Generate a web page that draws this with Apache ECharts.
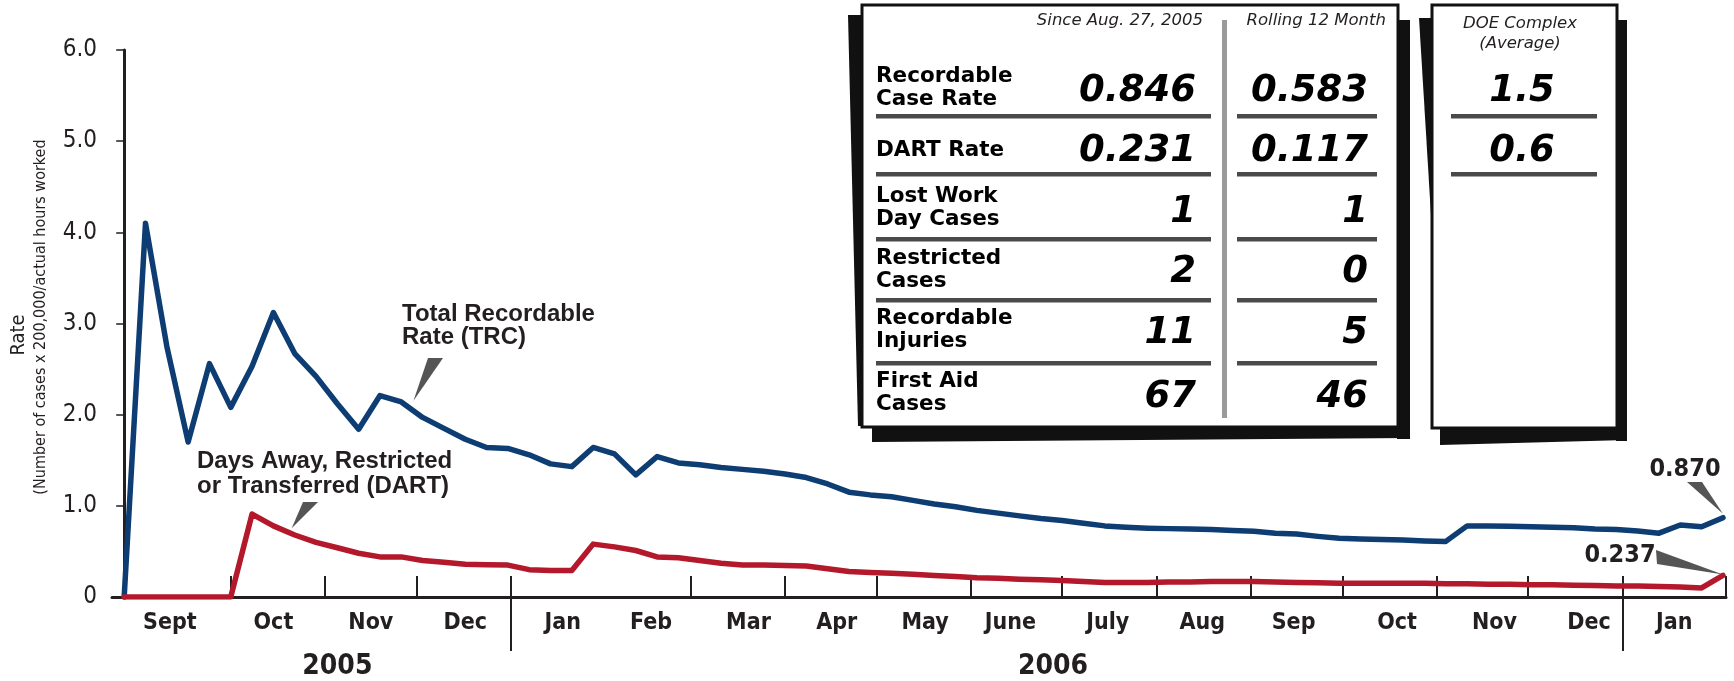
<!DOCTYPE html>
<html>
<head>
<meta charset="utf-8">
<script src="https://cdn.jsdelivr.net/npm/echarts@6/dist/echarts.min.js"></script>
<style>
html,body{margin:0;padding:0;background:#fff;}
#chart{width:1734px;height:681px;}
</style>
</head>
<body>
<div id="chart"></div>
<script>
// ---------------- DATA ----------------
const weekDates = [
 '2005-08-27','2005-09-03','2005-09-10','2005-09-17','2005-09-24','2005-10-01','2005-10-08','2005-10-15','2005-10-22','2005-10-29',
 '2005-11-05','2005-11-12','2005-11-19','2005-11-26','2005-12-03','2005-12-10','2005-12-17','2005-12-24','2005-12-31',
 '2006-01-07','2006-01-14','2006-01-21','2006-01-28','2006-02-04','2006-02-11','2006-02-18','2006-02-25',
 '2006-03-04','2006-03-11','2006-03-18','2006-03-25','2006-04-01','2006-04-08','2006-04-15','2006-04-22','2006-04-29',
 '2006-05-06','2006-05-13','2006-05-20','2006-05-27','2006-06-03','2006-06-10','2006-06-17','2006-06-24',
 '2006-07-01','2006-07-08','2006-07-15','2006-07-22','2006-07-29','2006-08-05','2006-08-12','2006-08-19','2006-08-26',
 '2006-09-02','2006-09-09','2006-09-16','2006-09-23','2006-09-30','2006-10-07','2006-10-14','2006-10-21','2006-10-28',
 '2006-11-04','2006-11-11','2006-11-18','2006-11-25','2006-12-02','2006-12-09','2006-12-16','2006-12-23','2006-12-30',
 '2007-01-06','2007-01-13','2007-01-20','2007-01-27','2007-02-03'
];
const trcRate = [
 0, 4.10, 2.75, 1.70, 2.56, 2.08, 2.53, 3.12, 2.67, 2.42,
 2.12, 1.84, 2.21, 2.14, 1.97, 1.85, 1.73, 1.64, 1.63,
 1.56, 1.46, 1.43, 1.64, 1.57, 1.34, 1.54, 1.47,
 1.45, 1.42, 1.40, 1.38, 1.35, 1.31, 1.24, 1.15, 1.12,
 1.10, 1.06, 1.02, 0.99, 0.95, 0.92, 0.89, 0.86,
 0.84, 0.81, 0.78, 0.765, 0.755, 0.75, 0.745, 0.74, 0.73,
 0.72, 0.70, 0.69, 0.665, 0.645, 0.635, 0.63, 0.625, 0.615,
 0.61, 0.78, 0.78, 0.775, 0.77, 0.765, 0.76, 0.745, 0.74,
 0.725, 0.70, 0.79, 0.77, 0.87
];
const dartRate = [
 0, 0, 0, 0, 0, 0, 0.91, 0.78, 0.68, 0.60,
 0.54, 0.48, 0.44, 0.44, 0.40, 0.38, 0.36, 0.355, 0.35,
 0.30, 0.29, 0.29, 0.58, 0.55, 0.51, 0.44, 0.43,
 0.40, 0.37, 0.35, 0.35, 0.345, 0.34, 0.31, 0.28, 0.27,
 0.26, 0.25, 0.235, 0.225, 0.21, 0.205, 0.195, 0.19,
 0.18, 0.17, 0.16, 0.16, 0.16, 0.165, 0.165, 0.17, 0.17,
 0.17, 0.165, 0.16, 0.155, 0.15, 0.15, 0.15, 0.15, 0.15,
 0.145, 0.145, 0.14, 0.14, 0.135, 0.135, 0.13, 0.125, 0.12,
 0.12, 0.115, 0.11, 0.10, 0.237
];
const axisStartDate = '2005-08-23';
const axisEndDate = '2007-02-04';
const monthTickDates = ['2005-10-01','2005-11-01','2005-12-01','2006-01-01','2006-03-01','2006-04-01','2006-05-01',
 '2006-06-01','2006-07-01','2006-08-01','2006-09-01','2006-10-01','2006-11-01','2006-12-01','2007-01-01','2007-02-04'];
const yearSepDates = ['2006-01-01','2007-01-01'];
const monthLabels = ['Sept','Oct','Nov','Dec','Jan','Feb','Mar','Apr','May','June','July','Aug','Sep','Oct','Nov','Dec','Jan'];
const monthLabelDates = ['2005-09-11','2005-10-15','2005-11-16','2005-12-17','2006-01-18','2006-02-16','2006-03-20','2006-04-18',
 '2006-05-17','2006-06-14','2006-07-16','2006-08-16','2006-09-15','2006-10-19','2006-11-20','2006-12-21','2007-01-18'];
const yearLabels = ['2005','2006'];
const yearLabelDates = ['2005-11-05','2006-06-28'];
const yTickLabels = ['0','1.0','2.0','3.0','4.0','5.0','6.0'];

const tableHeaders = ['Since Aug. 27, 2005','Rolling 12 Month','DOE Complex\n(Average)'];
const tableRows = ['Recordable\nCase Rate','DART Rate','Lost Work\nDay Cases','Restricted\nCases','Recordable\nInjuries','First Aid\nCases'];
const sinceValues = ['0.846','0.231','1','2','11','67'];
const rollingValues = ['0.583','0.117','1','0','5','46'];
const doeValues = ['1.5','0.6'];
const trcLabel = 'Total Recordable\nRate (TRC)';
const dartLabel = 'Days Away, Restricted\nor Transferred (DART)';
const trcEndLabel = '0.870';
const dartEndLabel = '0.237';

// ---------------- HELPERS ----------------
const BASE = Date.UTC(2005, 7, 27);
function dayOf(s){ const p = s.split('-').map(Number); return Math.round((Date.UTC(p[0], p[1]-1, p[2]) - BASE) / 86400000); }
const trcData = weekDates.map((d,i)=>[dayOf(d), trcRate[i]]);
const dartData = weekDates.map((d,i)=>[dayOf(d), dartRate[i]]);
const monthLabelMap = {}; monthLabelDates.forEach((d,i)=>{ monthLabelMap[dayOf(d)] = monthLabels[i]; });
const yearLabelMap = {}; yearLabelDates.forEach((d,i)=>{ yearLabelMap[dayOf(d)] = yearLabels[i]; });

const NARROW = "'Liberation Sans Narrow', 'DejaVu Sans Condensed', sans-serif";
const ARIAL = "'Liberation Sans', Arial, sans-serif";
const DEJA = "'DejaVu Sans', Verdana, sans-serif";
const INK = '#231f20';
const xMin = dayOf(axisStartDate), xMax = dayOf(axisEndDate);

const chart = echarts.init(document.getElementById('chart'), null, {renderer:'canvas'});

const option = {
  backgroundColor: '#fff',
  animation: false,
  grid: { left: 112, right: 8, top: 50, bottom: 82, containLabel: false },
  xAxis: [
    {
      type: 'value', min: xMin, max: xMax, position: 'bottom',
      splitLine: { show: false },
      axisLine: { show: true, lineStyle: { color: INK, width: 3 } },
      axisTick: { show: true, inside: true, length: 21, lineStyle: { color: INK, width: 2 },
        customValues: monthTickDates.map(dayOf) },
      axisLabel: { show: true, margin: 15, color: INK, fontFamily: NARROW, fontWeight: 'bold', fontSize: 23,
        customValues: monthLabelDates.map(dayOf), formatter: v => monthLabelMap[Math.round(v)] || '' }
    },
    {
      type: 'value', min: xMin, max: xMax, position: 'bottom',
      splitLine: { show: false },
      axisLine: { show: false },
      axisTick: { show: true, inside: false, length: 54, lineStyle: { color: INK, width: 2 },
        customValues: yearSepDates.map(dayOf) },
      axisLabel: { show: true, margin: 56, color: INK, fontFamily: NARROW, fontWeight: 'bold', fontSize: 28,
        customValues: yearLabelDates.map(dayOf), formatter: v => yearLabelMap[Math.round(v)] || '' }
    }
  ],
  yAxis: {
    type: 'value', min: 0, max: 6, interval: 1,
    splitLine: { show: false },
    axisLine: { show: true, lineStyle: { color: INK, width: 3 } },
    axisTick: { show: true, length: 8, lineStyle: { color: INK, width: 1.5 } },
    axisLabel: { margin: 15, color: INK, fontFamily: NARROW, fontSize: 24,
      formatter: v => yTickLabels[Math.round(v)] }
  },
  series: [
    { name: 'TRC', type: 'line', xAxisIndex: 0, data: trcData, showSymbol: false, symbol: 'none',
      lineStyle: { color: '#0d3d72', width: 5.5, join: 'round', cap: 'round' }, z: 3 },
    { name: 'DART', type: 'line', xAxisIndex: 0, data: dartData, showSymbol: false, symbol: 'none',
      lineStyle: { color: '#b3192a', width: 5.5, join: 'round', cap: 'round' }, z: 4 }
  ]
};
chart.setOption(option);

// ---------------- ANNOTATIONS & TABLE ----------------
function px(pt){ return chart.convertToPixel({seriesIndex:0}, pt); }
const g = [];
// axis titles
g.push({ type:'text', x: 19, y: 335, rotation: Math.PI/2, z: 10,
  style:{ text:'Rate', font: '20px ' + NARROW, fill: INK, align:'center', verticalAlign:'middle' } });
g.push({ type:'text', x: 41, y: 317, rotation: Math.PI/2, z: 10,
  style:{ text:'(Number of cases x 200,000/actual hours worked', font: '16px ' + NARROW, fill: INK, align:'center', verticalAlign:'middle' } });

// annotation texts
g.push({ type:'text', x: 402, y: 303, z: 10,
  style:{ text: trcLabel, font: 'bold 24px ' + ARIAL, fill: INK, lineHeight: 23, align:'left', verticalAlign:'top' } });
g.push({ type:'text', x: 197, y: 449, z: 10,
  style:{ text: dartLabel, font: 'bold 24px ' + ARIAL, fill: INK, lineHeight: 25, align:'left', verticalAlign:'top' } });
g.push({ type:'text', x: 1685, y: 469, z: 10,
  style:{ text: trcEndLabel, font: 'bold 25px ' + NARROW, fill: INK, align:'center', verticalAlign:'middle' } });
g.push({ type:'text', x: 1620, y: 555, z: 10,
  style:{ text: dartEndLabel, font: 'bold 25px ' + NARROW, fill: INK, align:'center', verticalAlign:'middle' } });

// pointers (tips on the data)
const lastI = weekDates.length - 1;
const tipTRC = px([95, 2.12]);
const tipDART = px([55, 0.72]);
const tipTrcEnd = px(trcData[lastI]);
const tipDartEnd = px(dartData[lastI]);
function wedge(a, b, tip){ return { type:'polygon', z: 9, shape:{ points:[a, b, [tip[0], tip[1]-3]] }, style:{ fill:'#555' } }; }
g.push(wedge([428,358],[443,358], tipTRC));
g.push(wedge([303,502],[318,502], tipDART));
g.push(wedge([1687,482],[1702,482], [tipTrcEnd[0], tipTrcEnd[1]-1]));
g.push(wedge([1656,550],[1657,564], [tipDartEnd[0], tipDartEnd[1]+2]));

// panel shadows
const BLACK = '#111';
g.push({ type:'polygon', z: 20, shape:{ points:[[848,15],[862,15],[862,426],[858,426]] }, style:{ fill: BLACK } });
g.push({ type:'polygon', z: 20, shape:{ points:[[1397,20],[1410,20],[1410,439],[1397,439]] }, style:{ fill: BLACK } });
g.push({ type:'polygon', z: 20, shape:{ points:[[872,426],[1410,426],[1410,438],[872,442]] }, style:{ fill: BLACK } });
g.push({ type:'polygon', z: 20, shape:{ points:[[1419,18],[1432,18],[1432,232]] }, style:{ fill: BLACK } });
g.push({ type:'polygon', z: 20, shape:{ points:[[1616,20],[1627,20],[1627,441],[1616,441]] }, style:{ fill: BLACK } });
g.push({ type:'polygon', z: 20, shape:{ points:[[1440,427],[1627,427],[1627,440],[1440,445]] }, style:{ fill: BLACK } });
// panels
g.push({ type:'rect', z: 21, shape:{ x: 862, y: 5, width: 536, height: 422 }, style:{ fill:'#fff', stroke: BLACK, lineWidth: 3 } });
g.push({ type:'rect', z: 21, shape:{ x: 1432, y: 5, width: 185, height: 423 }, style:{ fill:'#fff', stroke: BLACK, lineWidth: 3 } });
// divider
g.push({ type:'rect', z: 22, shape:{ x: 1222, y: 20, width: 5, height: 398 }, style:{ fill:'#9a9a9a' } });
// headers
g.push({ type:'text', z: 22, x: 1203, y: 21, style:{ text: tableHeaders[0], font:'italic 16.5px ' + DEJA, fill: INK, align:'right', verticalAlign:'middle' } });
g.push({ type:'text', z: 22, x: 1386, y: 21, style:{ text: tableHeaders[1], font:'italic 16.5px ' + DEJA, fill: INK, align:'right', verticalAlign:'middle' } });
g.push({ type:'text', z: 22, x: 1520, y: 34, style:{ text: tableHeaders[2], font:'italic 16.5px ' + DEJA, fill: INK, align:'center', verticalAlign:'middle', lineHeight: 20 } });

const rowLabelY = [88, 150, 208, 270, 330, 393];
const valueY = [91, 151, 212, 272, 333, 397];
const sepY = [116, 174, 239, 300, 363];
tableRows.forEach((t, i) => {
  g.push({ type:'text', z: 22, x: 876, y: rowLabelY[i], style:{ text: t, font:'bold 21.5px ' + DEJA, fill:'#000', align:'left', verticalAlign:'middle', lineHeight: 23 } });
  g.push({ type:'text', z: 22, x: 1196, y: valueY[i], style:{ text: sinceValues[i], font:'italic bold 37px ' + DEJA, fill:'#000', align:'right', verticalAlign:'middle' } });
  g.push({ type:'text', z: 22, x: 1368, y: valueY[i], style:{ text: rollingValues[i], font:'italic bold 37px ' + DEJA, fill:'#000', align:'right', verticalAlign:'middle' } });
});
sepY.forEach(y => {
  g.push({ type:'rect', z: 22, shape:{ x: 876, y: y-2, width: 335, height: 4.5 }, style:{ fill:'#4a4a4a' } });
  g.push({ type:'rect', z: 22, shape:{ x: 1237, y: y-2, width: 140, height: 4.5 }, style:{ fill:'#4a4a4a' } });
});
doeValues.forEach((v, i) => {
  g.push({ type:'text', z: 22, x: 1522, y: valueY[i], style:{ text: v, font:'italic bold 37px ' + DEJA, fill:'#000', align:'center', verticalAlign:'middle' } });
  g.push({ type:'rect', z: 22, shape:{ x: 1451, y: sepY[i]-2, width: 146, height: 4.5 }, style:{ fill:'#4a4a4a' } });
});

chart.setOption({ graphic: g });
</script>
</body>
</html>
